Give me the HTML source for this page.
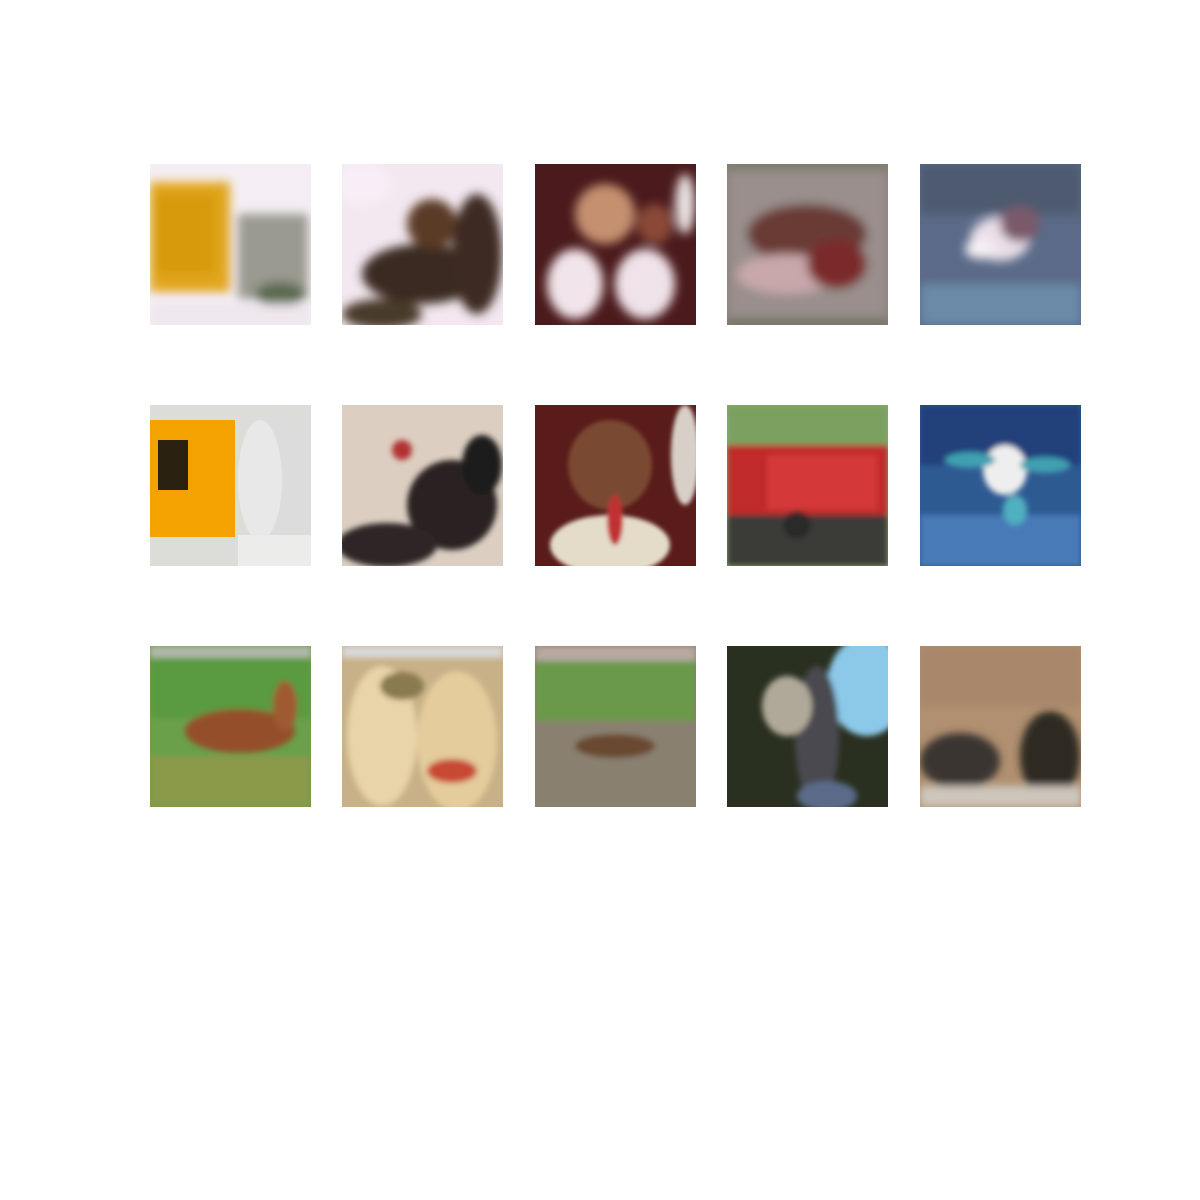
<!DOCTYPE html>
<html><head><meta charset="utf-8">
<style>
html,body{margin:0;padding:0;background:#fff;}
#root{position:relative;width:1200px;height:1200px;background:#fff;}
.tile{position:absolute;width:161px;height:161px;overflow:hidden;}
.tile svg{display:block;}
</style></head>
<body>
<div id="root"></div>
<script>
const cols=[150,342,535,727,920];
const rows=[164,405,646];
// each tile: [bg, blur, shapes...] shape: ['r',x,y,w,h,color] or ['e',cx,cy,rx,ry,color]
const tiles=[
 ['#f4eef4',5,[['r',0,18,80,110,'#e2a61a'],['r',5,30,60,80,'#d79a10'],['r',88,50,70,85,'#9a9a90'],['e',130,130,25,12,'#5a6a50'],['r',0,140,161,21,'#efe6ee']]],
 ['#f3e8f0',5,[['e',80,110,60,30,'#3a2a20'],['e',90,60,25,25,'#5a3a28'],['e',135,90,25,60,'#3e2c24'],['e',40,150,40,15,'#4a3a2a'],['e',20,20,30,20,'#f7eef7']]],
 ['#4a1a1c',5,[['e',70,50,30,30,'#c49070'],['e',40,120,28,35,'#f1e4ea'],['e',110,120,30,35,'#efe2e8'],['e',150,40,10,30,'#e8e0e0'],['e',120,60,18,20,'#8a4a38']]],
 ['#8a7a7a',5,[['r',0,0,161,161,'#9a8f8c'],['e',80,70,60,30,'#6a3a34'],['e',60,110,50,20,'#c8a8aa'],['e',110,100,30,25,'#7a2a2a'],['r',0,0,161,6,'#6a7a5a'],['r',0,155,161,6,'#5a6a50']]],
 ['#5a6a88',5,[['r',0,0,161,50,'#4e5a70'],['r',0,120,161,41,'#6a8aa8'],['e',80,75,30,22,'#eadfe8'],['e',60,85,15,10,'#f4f0f4'],['e',100,60,20,18,'#7a5a6a']]],
 ['#dcdcd8',0,[['r',0,15,85,117,'#f4a200'],['r',8,35,30,50,'#2a2010'],['e',125,75,40,65,'#dcdcdc'],['e',110,75,22,60,'#e8e8e8'],['r',88,130,73,31,'#ececea']]],
 ['#dccfc2',3,[['e',110,100,45,45,'#2a2220'],['e',45,140,50,22,'#2e2826'],['e',60,45,10,10,'#b23030'],['e',140,60,20,30,'#1e1a1a']]],
 ['#5a1c1a',2,[['e',75,60,42,45,'#7a4a30'],['e',75,140,60,30,'#e4dcc8'],['e',80,115,8,25,'#c03030'],['e',150,50,14,50,'#d8d0c8']]],
 ['#8aaa70',3,[['r',0,0,161,40,'#7aa060'],['r',0,40,161,70,'#c02a2a'],['r',40,50,110,55,'#d43838'],['r',0,110,161,51,'#3a3a38'],['e',70,120,14,14,'#2a2a2a']]],
 ['#2e5a92',3,[['r',0,0,161,60,'#24407a'],['r',0,110,161,51,'#4a7ab8'],['e',85,65,22,25,'#eeeeee'],['e',50,55,25,8,'#40a0b0'],['e',125,60,25,8,'#40a0b0'],['e',95,105,12,15,'#50b0c0']]],
 ['#6aa04a',3,[['r',0,0,161,12,'#b0b8a8'],['r',0,12,161,60,'#5a9a40'],['r',0,110,161,51,'#8a9a4a'],['e',90,85,55,22,'#94502a'],['e',135,60,12,25,'#a05a30']]],
 ['#c8b088',3,[['r',0,0,161,12,'#d8d8d8'],['e',40,90,35,70,'#e8d4a8'],['e',115,95,40,70,'#e4cc9c'],['e',110,125,25,12,'#c84a30'],['e',60,40,22,14,'#8a7a50']]],
 ['#8a8070',3,[['r',0,0,161,15,'#b8a8a0'],['r',0,15,161,60,'#6a9a4a'],['r',0,75,161,86,'#8a8070'],['e',80,100,40,12,'#6a4a30']]],
 ['#2a3020',3,[['e',140,40,40,50,'#8cc8e8'],['e',90,90,22,70,'#4a4a50'],['e',60,60,25,30,'#b0a898'],['e',100,150,30,15,'#5a6a88']]],
 ['#b09070',4,[['r',0,0,161,60,'#a8866a'],['e',40,115,40,28,'#3a3430'],['e',130,110,30,45,'#2e2a24'],['r',0,140,161,21,'#cdc6bc']]]
];
const root=document.getElementById('root');
const NS='http://www.w3.org/2000/svg';
tiles.forEach((t,i)=>{
  const r=Math.floor(i/5), c=i%5;
  const d=document.createElement('div');
  d.className='tile';
  
  
  d.style.left=cols[c]+'px'; d.style.top=rows[r]+'px';
  const s=document.createElementNS(NS,'svg');
  s.setAttribute('width','161');s.setAttribute('height','161');
  const fid='f'+i;
  s.innerHTML='<defs><filter id="'+fid+'" x="-20%" y="-20%" width="140%" height="140%"><feGaussianBlur stdDeviation="'+(t[1]+0.01)+'"/></filter></defs>';
  const bg=document.createElementNS(NS,'rect');
  bg.setAttribute('width','161');bg.setAttribute('height','161');bg.setAttribute('fill',t[0]);
  s.appendChild(bg);
  const g=document.createElementNS(NS,'g');
  g.setAttribute('filter','url(#'+fid+')');
  t[2].forEach(sh=>{
    let el;
    if(sh[0]==='r'){el=document.createElementNS(NS,'rect');el.setAttribute('x',sh[1]);el.setAttribute('y',sh[2]);el.setAttribute('width',sh[3]);el.setAttribute('height',sh[4]);}
    else{el=document.createElementNS(NS,'ellipse');el.setAttribute('cx',sh[1]);el.setAttribute('cy',sh[2]);el.setAttribute('rx',sh[3]);el.setAttribute('ry',sh[4]);}
    el.setAttribute('fill',sh[5]);
    g.appendChild(el);
  });
  s.appendChild(g);
  d.appendChild(s);
  root.appendChild(d);
});
</script>
</body></html>
